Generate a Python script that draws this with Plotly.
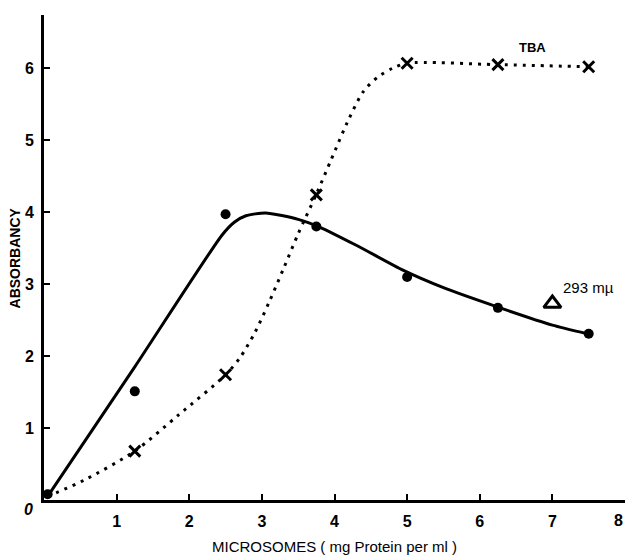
import plotly.graph_objects as go

# --- data ---
dot_x = [0.05, 1.25, 2.5, 3.75, 5.0, 6.25, 7.5]
dot_y = [0.08, 1.51, 3.97, 3.80, 3.10, 2.67, 2.31]

tba_x = [1.25, 2.5, 3.75, 5.0, 6.25, 7.5]
tba_y = [0.68, 1.74, 4.24, 6.07, 6.05, 6.02]

# hand-drawn solid curve (293 mu)
curve_x = [0.05, 1.25, 2.45, 2.62, 2.78, 3.05, 3.5, 3.8, 4.3, 4.95, 5.5, 6.25, 7.0, 7.48]
curve_y = [0.05, 1.85, 3.68, 3.86, 3.95, 3.99, 3.9, 3.79, 3.54, 3.19, 2.95, 2.68, 2.43, 2.31]

# hand-drawn dotted curve (TBA)
tba_curve_x = [0.05, 0.56, 1.25, 1.85, 2.5, 2.7, 2.9, 3.1, 3.3, 3.5, 3.75, 3.95, 4.2, 4.4, 4.6, 4.8, 5.0, 6.25, 7.5]
tba_curve_y = [0.05, 0.28, 0.68, 1.18, 1.74, 1.98, 2.32, 2.75, 3.22, 3.7, 4.25, 4.72, 5.3, 5.68, 5.88, 6.0, 6.07, 6.05, 6.02]

tri_x = [7.0]
tri_y = [2.73]

x_ticks = [1, 2, 3, 4, 5, 6, 7, 8]
y_ticks = [1, 2, 3, 4, 5, 6]

FONT = "Liberation Sans"

fig = go.Figure()

fig.add_trace(go.Scatter(
    x=tba_curve_x, y=tba_curve_y, mode="lines",
    line=dict(color="black", width=3, dash="3px,6px", shape="spline", smoothing=0.8),
    hoverinfo="skip", showlegend=False))
fig.add_trace(go.Scatter(
    x=curve_x, y=curve_y, mode="lines",
    line=dict(color="black", width=3, shape="spline", smoothing=0.6),
    hoverinfo="skip", showlegend=False))
fig.add_trace(go.Scatter(
    x=dot_x, y=dot_y, mode="markers",
    marker=dict(color="black", size=10, symbol="circle"),
    showlegend=False))
fig.add_trace(go.Scatter(
    x=tba_x, y=tba_y, mode="markers",
    marker=dict(color="black", size=11, symbol="x-thin", line=dict(color="black", width=3)),
    showlegend=False))
fig.add_trace(go.Scatter(
    x=tri_x, y=tri_y, mode="markers",
    marker=dict(color="black", size=15, symbol="triangle-up-open", line=dict(color="black", width=3)),
    showlegend=False))

axis_common = dict(
    showgrid=False, zeroline=False, showline=True, linecolor="black", linewidth=3,
    ticks="inside", ticklen=6, tickwidth=2, tickcolor="black",
    tickfont=dict(family=FONT, size=16, color="black", weight="bold"),
)

fig.update_xaxes(range=[0, 8], tickvals=x_ticks, ticktext=[str(v) for v in x_ticks],
                 ticklabelstandoff=5, **axis_common)
fig.update_yaxes(range=[0, 6.74], tickvals=y_ticks, ticktext=[str(v) for v in y_ticks],
                 ticklabelstandoff=4, **axis_common)

fig.update_layout(
    width=625, height=555,
    margin=dict(l=44, r=0, t=15, b=55),
    paper_bgcolor="white", plot_bgcolor="white",
    font=dict(family=FONT, color="black"),
    annotations=[
        dict(text="TBA", x=6.72, y=6.29, xref="x", yref="y", showarrow=False,
             font=dict(family=FONT, size=13, color="black", weight="bold")),
        dict(text="293 mµ", x=7.12, y=2.95, xref="x", yref="y", showarrow=False,
             xanchor="left", font=dict(family=FONT, size=15, color="black")),
        dict(text="<i>0</i>", x=-0.027, y=-0.02, xref="paper", yref="paper", showarrow=False,
             xanchor="center", yanchor="middle",
             font=dict(family=FONT, size=16, color="black", weight="bold")),
        dict(text="8", x=0.989, y=-0.043, xref="paper", yref="paper", showarrow=False,
             xanchor="center", yanchor="middle",
             font=dict(family=FONT, size=16, color="black", weight="bold")),
        dict(text="ABSORBANCY", x=-0.05, y=0.5, xref="paper", yref="paper", showarrow=False,
             textangle=-90, xanchor="center", yanchor="middle",
             font=dict(family=FONT, size=14, color="black", weight="bold")),
        dict(text="MICROSOMES ( mg Protein per ml )", x=0.5, y=-0.095, xref="paper", yref="paper",
             showarrow=False, xanchor="center", yanchor="middle",
             font=dict(family=FONT, size=15, color="black")),
    ],
)

fig.write_html("out.html")
